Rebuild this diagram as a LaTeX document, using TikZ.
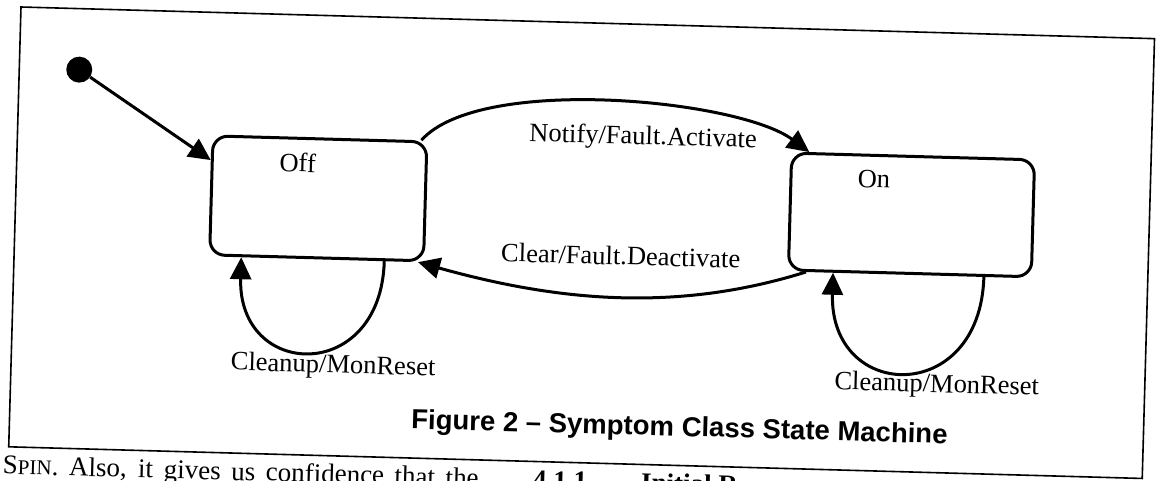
\documentclass[tikz,border=0pt]{standalone}
\usepackage{fontspec}
\setmainfont{Liberation Serif}
\newfontfamily\capfont{Liberation Sans}
\usetikzlibrary{arrows.meta}

\begin{document}
\begin{tikzpicture}[x=1pt, y=1pt,
  state/.style={draw, line width=3pt, rounded corners=15pt, minimum height=119pt, inner sep=0pt},
  trans/.style={line width=3pt, -{Triangle[length=22pt,width=21pt]}},
  lbl/.style={font=\fontsize{26.5}{30}\selectfont, anchor=base, inner sep=0pt}]

\useasboundingbox (0,0) rectangle (1157,480);
\clip (0,0) rectangle (1157,480);

\begin{scope}[shift={(21,473)}, rotate=-1.6, transform shape]

\draw [line width=1.6pt] (0,0) rectangle (1134,-440);

\node [circle, fill, minimum size=26pt, inner sep=0pt] (init) at (60,-61) {};
\node [state, minimum width=214pt] (off) at (302.5,-183) {};
\node [state, minimum width=243pt, minimum height=117pt] (on) at (896,-183) {};

\node [lbl] (offname) at (281,-157) {Off};
\node [lbl] (onname)  at (857.5,-157) {On};

\draw [trans] (init) -- (off.162);
\draw [trans] (off.31) to [out=50, in=145, looseness=0.58] (on.150);
\draw [trans] (on.210) to [out=199, in=-14, looseness=0.92] (off.329);
\draw [trans] (off.318) to [out=-90, in=-90, looseness=2.2] (off.219);
\draw [trans] (on.321) to [out=-90, in=-90, looseness=2.2] (on.218);

\node [lbl] (notify)  at (625.5,-120) {Notify/Fault.Activate};
\node [lbl] (clear)   at (606.5,-241) {Clear/Fault.Deactivate};
\node [lbl] (offloop) at (322,-357) {Cleanup/MonReset};
\node [lbl] (onloop)  at (926,-359.5) {Cleanup/MonReset};

% -------- caption and page text -----------
\node [lbl, font=\capfont\bfseries\fontsize{27.5}{30}\selectfont] (caption) at (670,-410.6)
  {Figure 2 – Symptom Class State Machine};
\node [lbl, anchor=base west, font=\fontsize{27}{30}\selectfont] (body) at (-5.5,-467)
  {\makebox[476pt][s]{S{\fontsize{21}{21}\selectfont PIN}. Also, it gives us confidence that the}};
\node [lbl, anchor=base west, font=\bfseries\fontsize{27}{30}\selectfont] (heading) at (525,-467)
  {4.1.1\qquad Initial R};
\end{scope}
\end{tikzpicture}
\end{document}
